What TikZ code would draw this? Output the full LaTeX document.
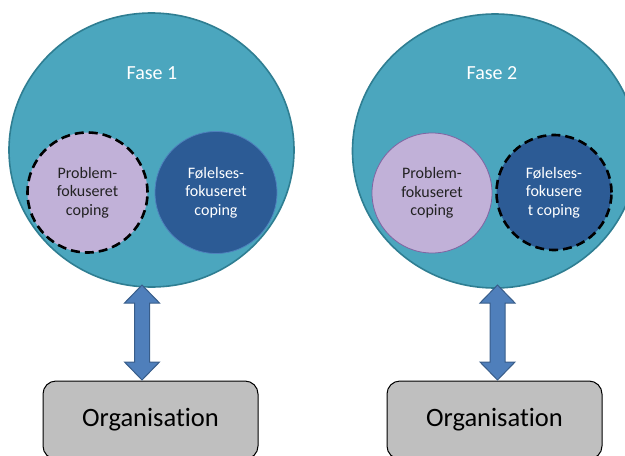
\documentclass[tikz,border=0pt]{standalone}
\usepackage{fontspec}
\setmainfont{Carlito}[Ligatures={NoCommon,NoDiscretionary,NoContextual}]
\usetikzlibrary{shapes.geometric}
\definecolor{bigfill}{HTML}{4BA6BE}
\definecolor{bigline}{HTML}{2F7E92}
\definecolor{lpurple}{HTML}{C1B1D8}
\definecolor{purpleline}{HTML}{8064A2}
\definecolor{dblue}{HTML}{2C5B95}
\definecolor{dblueline}{HTML}{4F81BD}
\definecolor{arrowfill}{HTML}{4F7FBB}
\definecolor{arrowline}{HTML}{385D8A}
\definecolor{boxfill}{HTML}{BFBFBF}
\definecolor{darktext}{HTML}{222222}
\tikzset{
  phase/.style={ellipse, fill=bigfill, draw=bigline, line width=1.6pt, inner sep=0pt,
    minimum width=285pt, minimum height=274pt},
  phaselabel/.style={text=white, font=\fontsize{20}{24}\selectfont},
  probcirc/.style={circle, fill=lpurple, inner sep=0pt, minimum size=120pt,
    text=darktext, align=center, font=\fontsize{16}{18.5}\selectfont},
  folcirc/.style={circle, fill=dblue, inner sep=0pt, minimum size=120pt,
    text=white, align=center, font=\fontsize{16}{18.5}\selectfont},
  dashedborder/.style={draw=black, line width=2.6pt, dash pattern=on 9pt off 5pt},
  thinprob/.style={draw=purpleline, line width=0.8pt},
  thinfol/.style={draw=dblueline, line width=0.8pt},
  blockarrow/.style={fill=arrowfill, draw=arrowline, line width=1pt, line join=miter},
  orgbox/.style={rectangle, rounded corners=13pt, fill=boxfill, draw=black, line width=1pt,
    minimum width=215pt, minimum height=78pt, inner sep=0pt,
    font=\fontsize{26.5}{30}\selectfont, text=black}
}
\begin{document}
\begin{tikzpicture}[x=1pt, y=-1pt]
\useasboundingbox (0,0) rectangle (625,456);
\begin{scope}
\clip (0,0) rectangle (625,456);
% phase circles
\node[phase] (f1) at (151.5,150) {};
\node[phase] (f2) at (495,151) {};
\node[phaselabel] (f1t) at (152,73) {Fase 1};
\node[phaselabel] (f2t) at (492,73) {Fase 2};
% inner circles phase 1
\node[probcirc, dashedborder] (p1) at (87.5,192.5) {Problem-\\fokuseret\\coping};
\node[folcirc, thinfol, minimum size=122pt] (e1) at (216,192.5) {Følelses-\\fokuseret\\coping};
% inner circles phase 2
\node[probcirc, thinprob] (p2) at (432,193) {Problem-\\fokuseret\\coping};
\node[folcirc, dashedborder, minimum size=115pt] (e2) at (554,192.5) {Følelses-\\fokusere\\t coping};
% organisation boxes
\node[orgbox] (o1) at (150.5,420) {Organisation};
\node[orgbox] (o2) at (494.5,420) {Organisation};
% arrow end points
\coordinate (a1t) at (142,285);
\coordinate (a1b) at (142,380);
\coordinate (a2t) at (497.5,285);
\coordinate (a2b) at (497.5,380);
% block arrows
\draw[blockarrow] (a1t) -- ++(17.5,18) -- ++(-10,0) -- ++(0,59) -- ++(10,0) -- (a1b)
  -- ++(-17.5,-18) -- ++(10,0) -- ++(0,-59) -- ++(-10,0) -- cycle;
\draw[blockarrow] (a2t) -- ++(17.5,18) -- ++(-10,0) -- ++(0,59) -- ++(10,0) -- (a2b)
  -- ++(-17.5,-18) -- ++(10,0) -- ++(0,-59) -- ++(-10,0) -- cycle;
\end{scope}
\end{tikzpicture}
\end{document}
